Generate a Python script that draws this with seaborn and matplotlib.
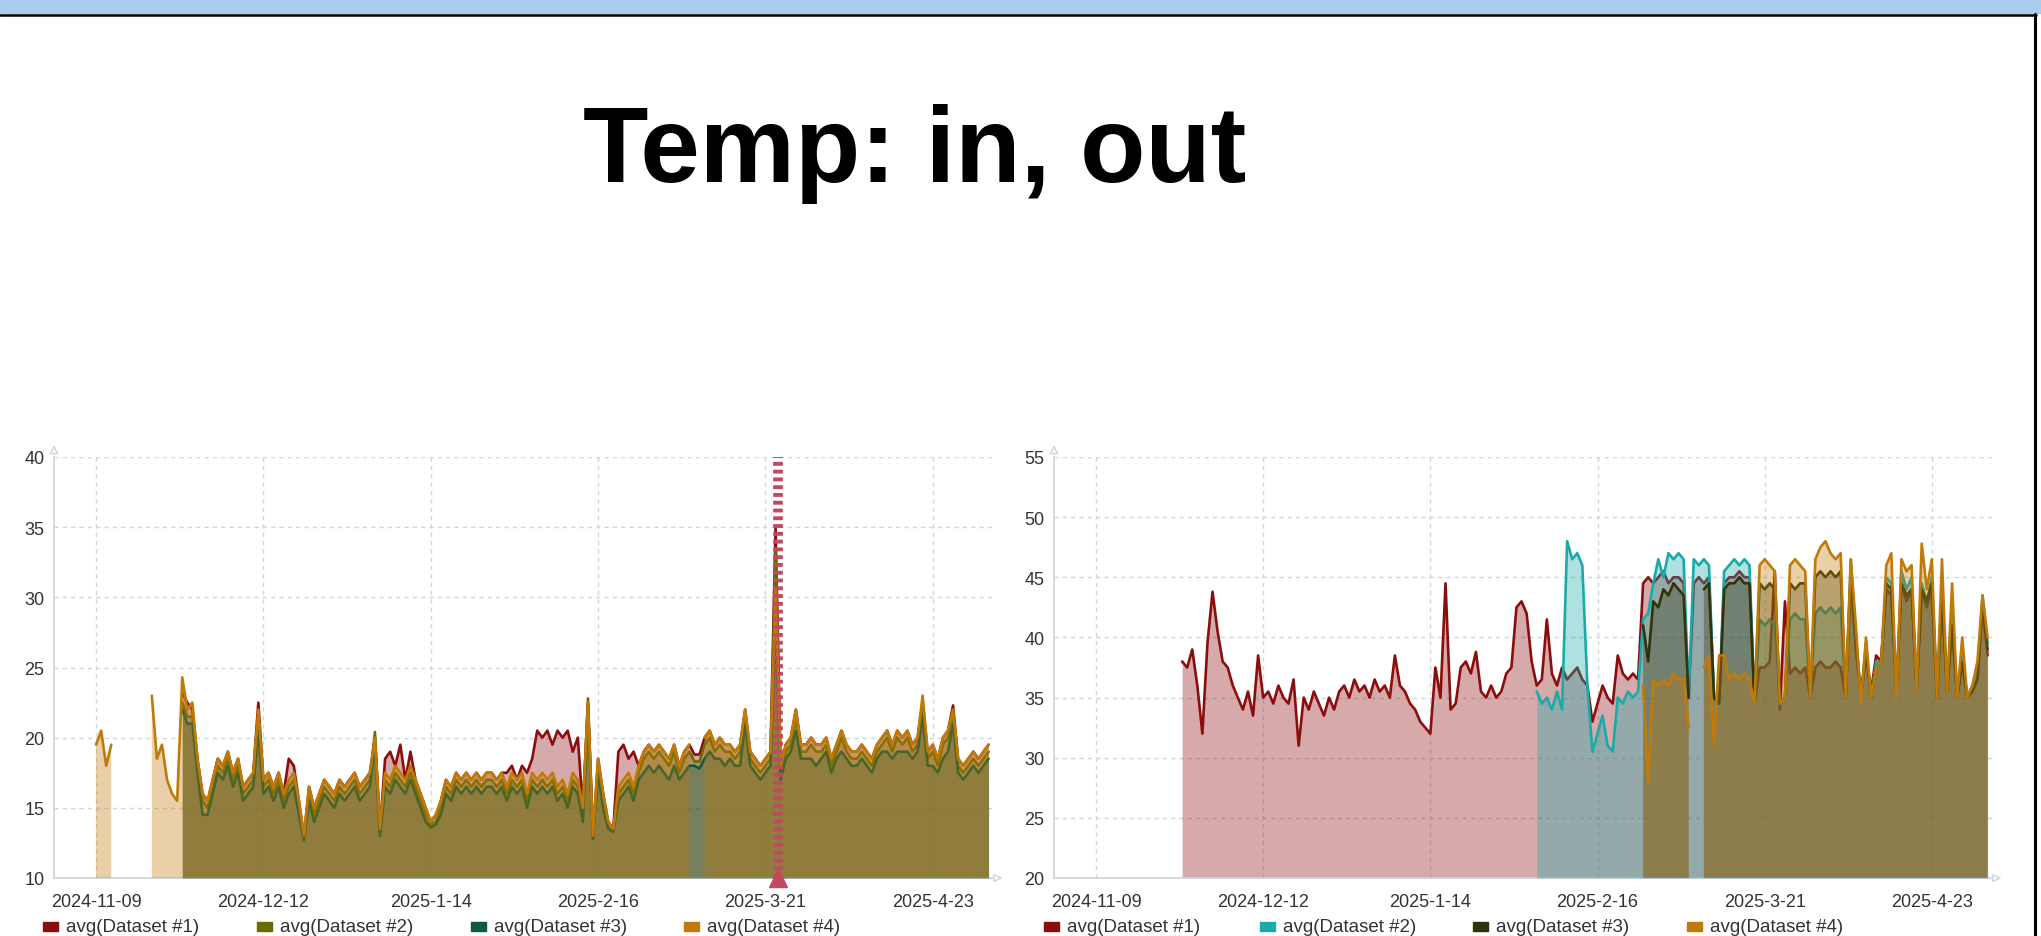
import numpy as np
import pandas as pd
import matplotlib.pyplot as plt
from matplotlib.patches import Rectangle
from matplotlib.lines import Line2D
import seaborn as sns

nan = np.nan

TITLE = 'Temp: in, out'
LEGEND_LABELS = ['avg(Dataset #1)', 'avg(Dataset #2)', 'avg(Dataset #3)', 'avg(Dataset #4)']
TICK_DATES = ['2024-11-09', '2024-12-12', '2025-01-14', '2025-02-16', '2025-03-21', '2025-04-23']
TICK_LABELS = ['2024-11-09', '2024-12-12', '2025-1-14', '2025-2-16', '2025-3-21', '2025-4-23']
X_START = '2024-10-31 17:00'
X_END = '2025-05-04 21:00'
MARK_DATE = '2025-03-23 12:00'

# ---- left chart: temp in (daily averages) ----
IN_1_START = '2024-11-26'
IN_1 = [23.2, 22.5, 22.0, 18.5, 16.0, 15.5, 17.0, 18.5, 18.0, 19.0,
        17.5, 18.5, 16.5, 17.0, 17.5, 22.5, 17.0, 17.5, 16.5, 17.5,
        16.0, 18.5, 18.0, 15.5, 13.0, 16.5, 15.0, 16.0, 17.0, 16.5,
        16.0, 17.0, 16.5, 17.0, 17.5, 16.5, 17.0, 17.5, 20.0, 13.5,
        18.5, 19.0, 18.0, 19.5, 17.0, 19.0, 17.0, 16.0, 15.0, 14.0,
        14.5, 15.5, 17.0, 16.5, 17.5, 17.0, 17.5, 17.0, 17.5, 17.0,
        17.5, 17.5, 17.0, 17.5, 17.5, 18.0, 17.0, 18.0, 17.5, 18.5,
        20.5, 20.0, 20.5, 19.5, 20.5, 20.0, 20.5, 19.0, 20.0, 15.0,
        22.5, 13.0, 18.5, 16.0, 14.0, 13.5, 19.0, 19.5, 18.5, 19.0,
        18.0, 19.0, 19.5, 19.0, 19.5, 19.0, 18.5, 19.5, 18.0, 19.0,
        19.5, 18.8, 18.8, 20.0, 20.5, 19.5, 20.0, 19.5, 19.5, 19.0,
        19.5, 22.0, 19.0, 18.5, 18.0, 18.5, 19.0, 35.0, 18.0, 19.5,
        20.0, 22.0, 19.5, 19.5, 20.0, 19.5, 19.5, 20.0, 18.5, 19.5,
        20.5, 19.5, 19.0, 19.0, 19.5, 19.0, 18.5, 19.5, 20.0, 20.5,
        19.5, 20.5, 20.0, 20.5, 19.5, 20.0, 22.5, 19.0, 19.5, 18.5,
        20.0, 20.5, 22.3, 18.5, 18.0, 18.5, 19.0, 18.5, 19.0, 19.5]

IN_2_START = '2024-11-26'
IN_2 = [22.5, 21.5, 21.5, 18.0, 15.5, 15.0, 16.5, 18.0, 17.5, 18.5,
        17.0, 18.0, 16.0, 16.5, 17.0, 21.5, 16.5, 17.0, 16.0, 17.0,
        15.5, 16.5, 17.0, 15.0, 12.8, 16.0, 14.5, 15.5, 16.5, 16.0,
        15.5, 16.5, 16.0, 16.5, 17.0, 16.0, 16.5, 17.0, 20.4, 13.2,
        17.0, 16.5, 17.5, 17.0, 16.5, 17.5, 16.5, 15.5, 14.5, 13.8,
        14.0, 15.0, 16.5, 16.0, 17.0, 16.5, 17.0, 16.5, 17.0, 16.5,
        17.0, 17.0, 16.5, 17.0, 16.0, 17.0, 16.5, 17.0, 15.5, 17.0,
        16.5, 17.0, 16.5, 17.0, 16.0, 16.5, 15.5, 17.0, 16.5, 14.5,
        22.8, 12.8, 18.0, 15.5, 13.5, 13.5, 16.0, 16.5, 17.0, 16.0,
        17.5, 18.5, 19.0, 18.5, 19.0, 18.5, 18.0, 19.0, 17.5, 18.5,
        19.0, 18.3, 18.3, 19.5, 20.0, 19.0, 19.5, 19.0, 19.0, 18.5,
        19.0, 21.5, 18.5, 18.0, 17.5, 18.0, 18.5, 33.5, 17.5, 19.0,
        19.5, 21.5, 19.0, 19.0, 19.5, 19.0, 19.0, 19.5, 18.0, 19.0,
        20.0, 19.0, 18.5, 18.5, 19.0, 18.5, 18.0, 19.0, 19.5, 20.0,
        19.0, 20.0, 19.5, 20.0, 19.0, 19.5, 22.5, 18.5, 19.0, 18.0,
        19.5, 20.0, 21.5, 18.0, 17.5, 18.0, 18.5, 18.0, 18.5, 19.0]

IN_3_START = '2024-11-26'
IN_3 = [22.0, 21.0, 21.0, 17.5, 14.5, 14.5, 16.0, 17.5, 17.0, 18.0,
        16.5, 17.5, 15.5, 16.0, 16.5, 20.5, 16.0, 16.5, 15.5, 16.5,
        15.0, 16.0, 16.5, 14.5, 12.7, 15.5, 14.0, 15.0, 16.0, 15.5,
        15.0, 16.0, 15.5, 16.0, 16.5, 15.5, 16.0, 16.5, 19.5, 13.0,
        16.5, 16.0, 17.0, 16.5, 16.0, 17.0, 16.0, 15.0, 14.0, 13.6,
        13.8, 14.5, 16.0, 15.5, 16.5, 16.0, 16.5, 16.0, 16.5, 16.0,
        16.5, 16.5, 16.0, 16.5, 15.5, 16.5, 16.0, 16.5, 15.0, 16.5,
        16.0, 16.5, 16.0, 16.5, 15.5, 16.0, 15.0, 16.5, 16.0, 14.0,
        21.5, 12.8, 17.5, 15.0, 13.5, 13.3, 15.5, 16.0, 16.5, 15.5,
        17.0, 17.5, 18.0, 17.5, 18.0, 17.5, 17.0, 18.0, 17.0, 17.5,
        18.0, 18.0, 17.8, 18.5, 19.0, 18.5, 18.5, 18.0, 18.5, 18.0,
        18.0, 21.0, 18.0, 17.5, 17.0, 17.5, 18.0, 28.0, 17.0, 18.5,
        19.0, 20.5, 18.5, 18.5, 18.5, 18.0, 18.5, 19.0, 17.5, 18.5,
        19.0, 18.5, 18.0, 18.0, 18.5, 18.0, 17.5, 18.5, 19.0, 19.0,
        18.5, 19.0, 19.0, 19.0, 18.5, 19.0, 21.5, 18.0, 18.0, 17.5,
        18.5, 19.0, 21.0, 17.5, 17.0, 17.5, 18.0, 17.5, 18.0, 18.5]

IN_4_START = '2024-11-09'
IN_4 = [19.5, 20.5, 18.0, 19.5, nan, nan, nan, nan, nan, nan,
        nan, 23.0, 18.5, 19.5, 17.0, 16.0, 15.5, 24.3, 22.0, 22.5,
        18.5, 16.0, 15.5, 17.0, 18.5, 18.0, 19.0, 17.5, 18.5, 16.5,
        17.0, 17.5, 22.0, 17.0, 17.5, 16.5, 17.5, 16.0, 17.0, 17.5,
        15.5, 13.0, 16.5, 15.0, 16.0, 17.0, 16.5, 16.0, 17.0, 16.5,
        17.0, 17.5, 16.5, 17.0, 17.5, 20.0, 13.5, 17.5, 17.0, 18.0,
        17.5, 17.0, 18.0, 17.0, 16.0, 15.0, 14.0, 14.5, 15.5, 17.0,
        16.5, 17.5, 17.0, 17.5, 17.0, 17.5, 17.0, 17.5, 17.5, 17.0,
        17.5, 16.5, 17.5, 17.0, 17.5, 16.0, 17.5, 17.0, 17.5, 17.0,
        17.5, 16.5, 17.0, 16.0, 17.5, 17.0, 15.0, 22.5, 13.0, 18.5,
        16.0, 14.0, 13.5, 16.5, 17.0, 17.5, 16.5, 18.0, 19.0, 19.5,
        19.0, 19.5, 19.0, 18.5, 19.5, 18.0, 19.0, 19.5, nan, nan,
        20.0, 20.5, 19.5, 20.0, 19.5, 19.5, 19.0, 19.5, 22.0, 19.0,
        18.5, 18.0, 18.5, 19.0, 30.5, 18.0, 19.5, 20.0, 22.0, 19.5,
        19.5, 20.0, 19.5, 19.5, 20.0, 18.5, 19.5, 20.5, 19.5, 19.0,
        19.0, 19.5, 19.0, 18.5, 19.5, 20.0, 20.5, 19.5, 20.5, 20.0,
        20.5, 19.5, 20.0, 23.0, 19.0, 19.5, 18.5, 20.0, 20.5, 22.0,
        18.5, 18.0, 18.5, 19.0, 18.5, 19.0, 19.5]

# ---- right chart: temp out (daily averages) ----
OUT_1_START = '2024-11-26'
OUT_1 = [38.0, 37.5, 39.0, 36.0, 32.0, 39.5, 43.8, 40.5, 38.0, 37.5,
         36.0, 35.0, 34.0, 35.5, 33.5, 38.5, 35.0, 35.5, 34.5, 36.0,
         35.0, 34.5, 36.5, 31.0, 35.0, 34.0, 35.5, 34.5, 33.5, 35.0,
         34.0, 35.5, 36.0, 35.0, 36.5, 35.5, 36.0, 35.0, 36.5, 35.5,
         36.0, 35.0, 38.5, 36.0, 35.5, 34.5, 34.0, 33.0, 32.5, 32.0,
         37.5, 35.0, 44.5, 34.0, 34.5, 37.5, 38.0, 37.0, 38.8, 35.5,
         35.0, 36.0, 35.0, 35.5, 37.0, 37.5, 42.5, 43.0, 42.0, 38.0,
         36.0, 36.5, 41.5, 37.0, 36.0, 37.5, 36.5, 37.0, 37.5, 36.5,
         36.0, 33.0, 34.5, 36.0, 35.0, 34.5, 38.5, 37.0, 36.5, 37.0,
         36.5, 44.5, 45.0, 44.5, 45.0, 45.5, 44.5, 45.0, 45.0, 44.5,
         35.0, 44.5, 45.0, 44.5, 45.0, 35.0, 34.5, 44.5, 45.0, 45.0,
         45.5, 45.0, 45.0, 34.5, 37.5, 37.5, 38.0, 45.5, 34.0, 43.0,
         37.0, 37.5, 37.0, 37.5, 35.0, 37.5, 38.0, 37.5, 37.5, 38.0,
         37.5, 35.0, 45.0, 39.0, 35.0, 38.5, 35.5, 38.5, 38.0, 44.0,
         43.5, 35.5, 44.5, 43.0, 44.0, 35.5, 44.0, 42.5, 44.0, 35.0,
         43.5, 35.5, 41.0, 35.0, 38.0, 35.0, 36.0, 36.5, 42.5, 38.5]

OUT_2_START = '2025-02-04'
OUT_2 = [35.5, 34.5, 35.0, 34.0, 35.5, 34.0, 48.0, 46.5, 47.0, 46.0,
         36.0, 30.5, 32.0, 33.5, 31.0, 30.5, 35.0, 34.5, 35.5, 35.0,
         35.5, 41.5, 42.0, 44.5, 46.5, 45.0, 47.0, 46.5, 47.0, 46.5,
         35.0, 46.5, 46.0, 46.5, 46.0, 35.0, 34.5, 45.5, 46.0, 46.5,
         46.0, 46.5, 46.0, 34.5, 41.5, 41.0, 41.5, 41.0, 34.5, 35.0,
         41.5, 42.0, 41.5, 41.5, 35.0, 42.0, 42.5, 42.0, 42.5, 42.0,
         42.5, 35.0, 46.5, 40.0, 35.0, 39.5, 35.0, 38.0, 38.0, 45.0,
         44.5, 35.5, 45.5, 44.0, 45.0, 36.0, 44.5, 43.0, 45.0, 35.5,
         44.0, 36.0, 42.0, 35.5, 38.5, 35.0, 36.0, 37.0, 43.5, 39.5]

OUT_3_START = '2025-02-25'
OUT_3 = [41.0, 38.0, 43.0, 42.5, 44.0, 43.5, 44.5, 44.0, 43.5, 35.0,
         nan, nan, 44.0, 44.5, 35.0, 34.5, 44.0, 44.5, 44.5, 45.0,
         44.5, 44.5, 34.5, 44.5, 44.0, 44.5, 44.0, 34.5, 35.0, 44.5,
         44.0, 44.5, 44.5, 35.0, 45.0, 45.5, 45.0, 45.5, 45.0, 45.5,
         35.0, 45.5, 40.0, 35.0, 39.0, 35.0, 37.5, 38.0, 44.5, 44.0,
         35.5, 44.5, 43.5, 44.0, 35.5, 44.0, 43.0, 44.5, 35.0, 43.5,
         35.5, 41.0, 35.0, 38.0, 35.0, 35.5, 36.5, 43.0, 39.0]

OUT_4_START = '2025-02-25'
OUT_4 = [36.0, 28.0, 36.5, 36.0, 36.5, 36.0, 37.0, 36.5, 36.5, 32.5,
         nan, nan, 37.5, 38.5, 31.0, 38.5, 38.5, 36.5, 37.0, 36.5,
         37.0, 36.5, 34.5, 46.0, 46.5, 46.0, 45.5, 34.5, 35.0, 46.0,
         46.5, 46.0, 45.5, 35.0, 46.5, 47.5, 48.0, 47.0, 46.5, 47.0,
         35.0, 46.5, 41.0, 34.5, 40.0, 35.0, 37.5, 38.0, 46.0, 47.0,
         35.0, 46.5, 45.5, 46.0, 35.5, 47.8, 44.0, 46.5, 35.0, 46.5,
         35.5, 44.5, 35.0, 40.0, 35.0, 36.0, 38.0, 43.5, 40.0]

IN_COLORS = ['#8b0d0d', '#6b6b00', '#0d5a3c', '#c07a08']
OUT_COLORS = ['#8b0d0d', '#1aaaaa', '#33330a', '#c07a08']

W, H = 2041, 937

sns.set_style('white')
plt.rcParams['font.family'] = ['Liberation Sans', 'DejaVu Sans']

fig = plt.figure(figsize=(W / 100, H / 100), dpi=100)

# slide frame: blue header bar, rule under it, right border
fig.patches.append(Rectangle((0, 1 - 14 / H), 1, 14 / H, transform=fig.transFigure,
                             color='#a9cdee', zorder=0))
fig.lines.append(Line2D([0, 2036 / W], [1 - 15.5 / H] * 2, transform=fig.transFigure,
                        color='black', lw=1.8))
fig.lines.append(Line2D([2035 / W] * 2, [0, 1 - 15 / H], transform=fig.transFigure,
                        color='black', lw=2.2))

fig.text(915 / W, 1 - 182 / H, TITLE, ha='center', va='baseline',
         fontsize=77, fontweight='bold', color='black')

AX_BOTTOM = 1 - 879 / H
AX_HEIGHT = (879 - 458) / H
ax_in = fig.add_axes([54 / W, AX_BOTTOM, (993 - 54) / W, AX_HEIGHT])
ax_out = fig.add_axes([1054 / W, AX_BOTTOM, (1992 - 1054) / W, AX_HEIGHT])

AXIS_COLOR = '#ccd5de'
GRID_COLOR = '#cfd6dd'


def draw_series(ax, start, values, color, bottom, z):
    dates = pd.date_range(start, periods=len(values), freq='D')
    vals = np.array(values, dtype=float)
    ax.fill_between(dates, bottom, vals, color=color, alpha=0.35, linewidth=0, zorder=z)
    df = pd.DataFrame({'date': dates, 'value': vals})
    df['seg'] = df['value'].isna().cumsum()
    df = df.dropna()
    sns.lineplot(data=df, x='date', y='value', units='seg', estimator=None,
                 color=color, linewidth=1.9, ax=ax, zorder=z + 0.5, legend=False)


def style_axis(ax, ymin, ymax):
    ax.set_xlim(pd.Timestamp(X_START), pd.Timestamp(X_END))
    ax.set_ylim(ymin, ymax)
    ax.set_yticks(range(ymin, ymax + 1, 5))
    ax.set_xticks(pd.to_datetime(TICK_DATES))
    ax.set_xticklabels(TICK_LABELS)
    ax.set_xlabel('')
    ax.set_ylabel('')
    ax.tick_params(axis='both', length=0, labelsize=13, colors='#333333')
    ax.tick_params(axis='x', pad=11)
    ax.tick_params(axis='y', pad=7)
    ax.grid(True, axis='both', color=GRID_COLOR, linestyle=(0, (3, 3)), linewidth=1)
    ax.set_axisbelow(True)
    for side in ['top', 'right']:
        ax.spines[side].set_visible(False)
    for side in ['left', 'bottom']:
        ax.spines[side].set_color(AXIS_COLOR)
        ax.spines[side].set_linewidth(1.2)
    arrow = dict(arrowstyle='-|>,head_length=0.5,head_width=0.25', color=AXIS_COLOR,
                 fc='white', lw=1)
    ax.annotate('', xy=(0, 1.035), xytext=(0, 1.0), xycoords='axes fraction', arrowprops=arrow)
    ax.annotate('', xy=(1.013, 0), xytext=(1.0, 0), xycoords='axes fraction', arrowprops=arrow)


in_series = [(IN_1_START, IN_1), (IN_2_START, IN_2), (IN_3_START, IN_3), (IN_4_START, IN_4)]
out_series = [(OUT_1_START, OUT_1), (OUT_2_START, OUT_2), (OUT_3_START, OUT_3), (OUT_4_START, OUT_4)]

for i, (start, vals) in enumerate(in_series):
    draw_series(ax_in, start, vals, IN_COLORS[i], 10, 2 + 2 * i)
for i, (start, vals) in enumerate(out_series):
    draw_series(ax_out, start, vals, OUT_COLORS[i], 20, 2 + 2 * i)

style_axis(ax_in, 10, 40)
style_axis(ax_out, 20, 55)

# mark line on the in-chart
mark = pd.Timestamp(MARK_DATE)
ax_in.plot([mark, mark], [10, 40], color='#c04a60', lw=7, linestyle=(0, (0.4, 0.4)),
           zorder=20)
ax_in.plot([mark], [10], marker='^', markersize=13, color='#c04a60', clip_on=False,
           zorder=21)

# legends (sit on the bottom edge, as in the slide)
LEFT_LEG_X = [43, 257, 471, 684]
RIGHT_LEG_X = [1044, 1260, 1473, 1687]
for xs, colors in [(LEFT_LEG_X, IN_COLORS), (RIGHT_LEG_X, OUT_COLORS)]:
    for x, c, label in zip(xs, colors, LEGEND_LABELS):
        fig.patches.append(Rectangle((x / W, 1 - 932 / H), 15 / W, 9 / H,
                                     transform=fig.transFigure, color=c))
        fig.text((x + 23) / W, 1 - 932.5 / H, label, fontsize=13.5, va='baseline',
                 color='#333333')

fig.savefig('out.png', dpi=100)
